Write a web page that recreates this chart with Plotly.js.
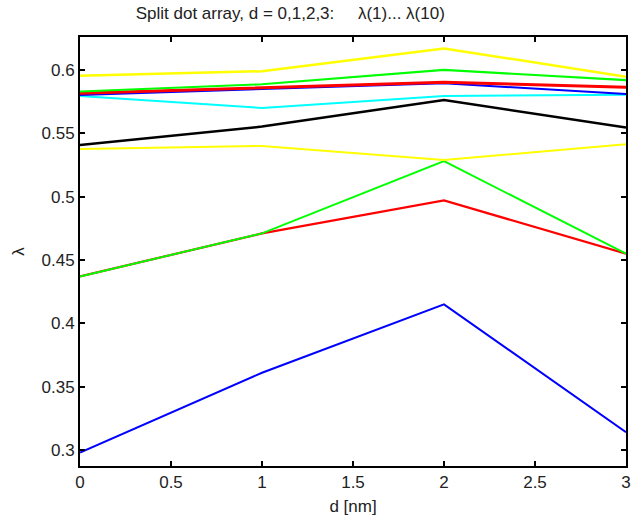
<!DOCTYPE html>
<html>
<head>
<meta charset="utf-8">
<script src="https://cdn.plot.ly/plotly-3.0.1.min.js"></script>
<style>html,body{margin:0;padding:0;background:#fff;}#chart{width:631px;height:523px;}</style>
</head>
<body>
<div id="chart"></div>
<script>
// Data: d [nm] and eigenvalues lambda(1)...lambda(10)
var d = [0, 1, 2, 3];
var lambda1  = [0.298, 0.361, 0.415, 0.314];
var lambda2  = [0.437, 0.471, 0.497, 0.455];
var lambda3  = [0.437, 0.471, 0.528, 0.455];
var lambda4  = [0.5376, 0.540, 0.529, 0.5413];
var lambda5  = [0.5408, 0.5553, 0.5763, 0.5545];
var lambda6  = [0.5795, 0.570, 0.5795, 0.5805];
var lambda7  = [0.5803, 0.585, 0.5895, 0.581];
var lambda8  = [0.5816, 0.586, 0.5903, 0.5863];
var lambda9  = [0.583, 0.5887, 0.600, 0.592];
var lambda10 = [0.5955, 0.599, 0.617, 0.5947];

var series = [lambda1, lambda2, lambda3, lambda4, lambda5, lambda6, lambda7, lambda8, lambda9, lambda10];
var colors = ['#0000ff', '#ff0000', '#00ff00', '#ffff00', '#000000', '#00ffff', '#0000ff', '#ff0000', '#00ff00', '#ffff00'];
var widths = [2, 2.2, 1.9, 2, 2.5, 2, 2, 3, 2.2, 2.5];

var traces = series.map(function (s, i) {
  return {x: d, y: s, type: 'scatter', mode: 'lines',
          line: {color: colors[i], width: widths[i]}, hoverinfo: 'skip'};
});

var font = {family: 'Liberation Sans, Arial, sans-serif', size: 17, color: '#222'};
var layout = {
  width: 631, height: 523,
  margin: {l: 80, r: 5, t: 37, b: 57},
  paper_bgcolor: '#fff', plot_bgcolor: '#fff',
  showlegend: false, hovermode: false,
  font: font,
  title: {text: 'Split dot array, d = 0,1,2,3:\u00a0\u00a0\u00a0\u00a0\u00a0λ(1)... λ(10)',
          font: font, xref: 'container', yref: 'container', x: 0.46, xanchor: 'center', y: 0.975, yanchor: 'middle'},
  xaxis: {range: [0, 3], tickvals: [0, 0.5, 1, 1.5, 2, 2.5, 3], ticktext: ['0', '0.5', '1', '1.5', '2', '2.5', '3'],
          ticks: 'inside', ticklen: 5, tickwidth: 2, tickcolor: '#000',
          showline: true, linecolor: '#000', linewidth: 2, mirror: 'ticks',
          showgrid: false, zeroline: false, tickfont: font,
          title: {text: 'd [nm]', font: font, standoff: 9}},
  yaxis: {range: [0.2874, 0.626], tickvals: [0.3, 0.35, 0.4, 0.45, 0.5, 0.55, 0.6], ticktext: ['0.3', '0.35', '0.4', '0.45', '0.5', '0.55', '0.6'],
          ticks: 'inside', ticklen: 5, tickwidth: 2, tickcolor: '#000',
          showline: true, linecolor: '#000', linewidth: 2, mirror: 'ticks',
          showgrid: false, zeroline: false, tickfont: font,
          title: {text: 'λ', font: font, standoff: 13}}
};

Plotly.newPlot('chart', traces, layout, {displayModeBar: false, staticPlot: true});
</script>
</body>
</html>
